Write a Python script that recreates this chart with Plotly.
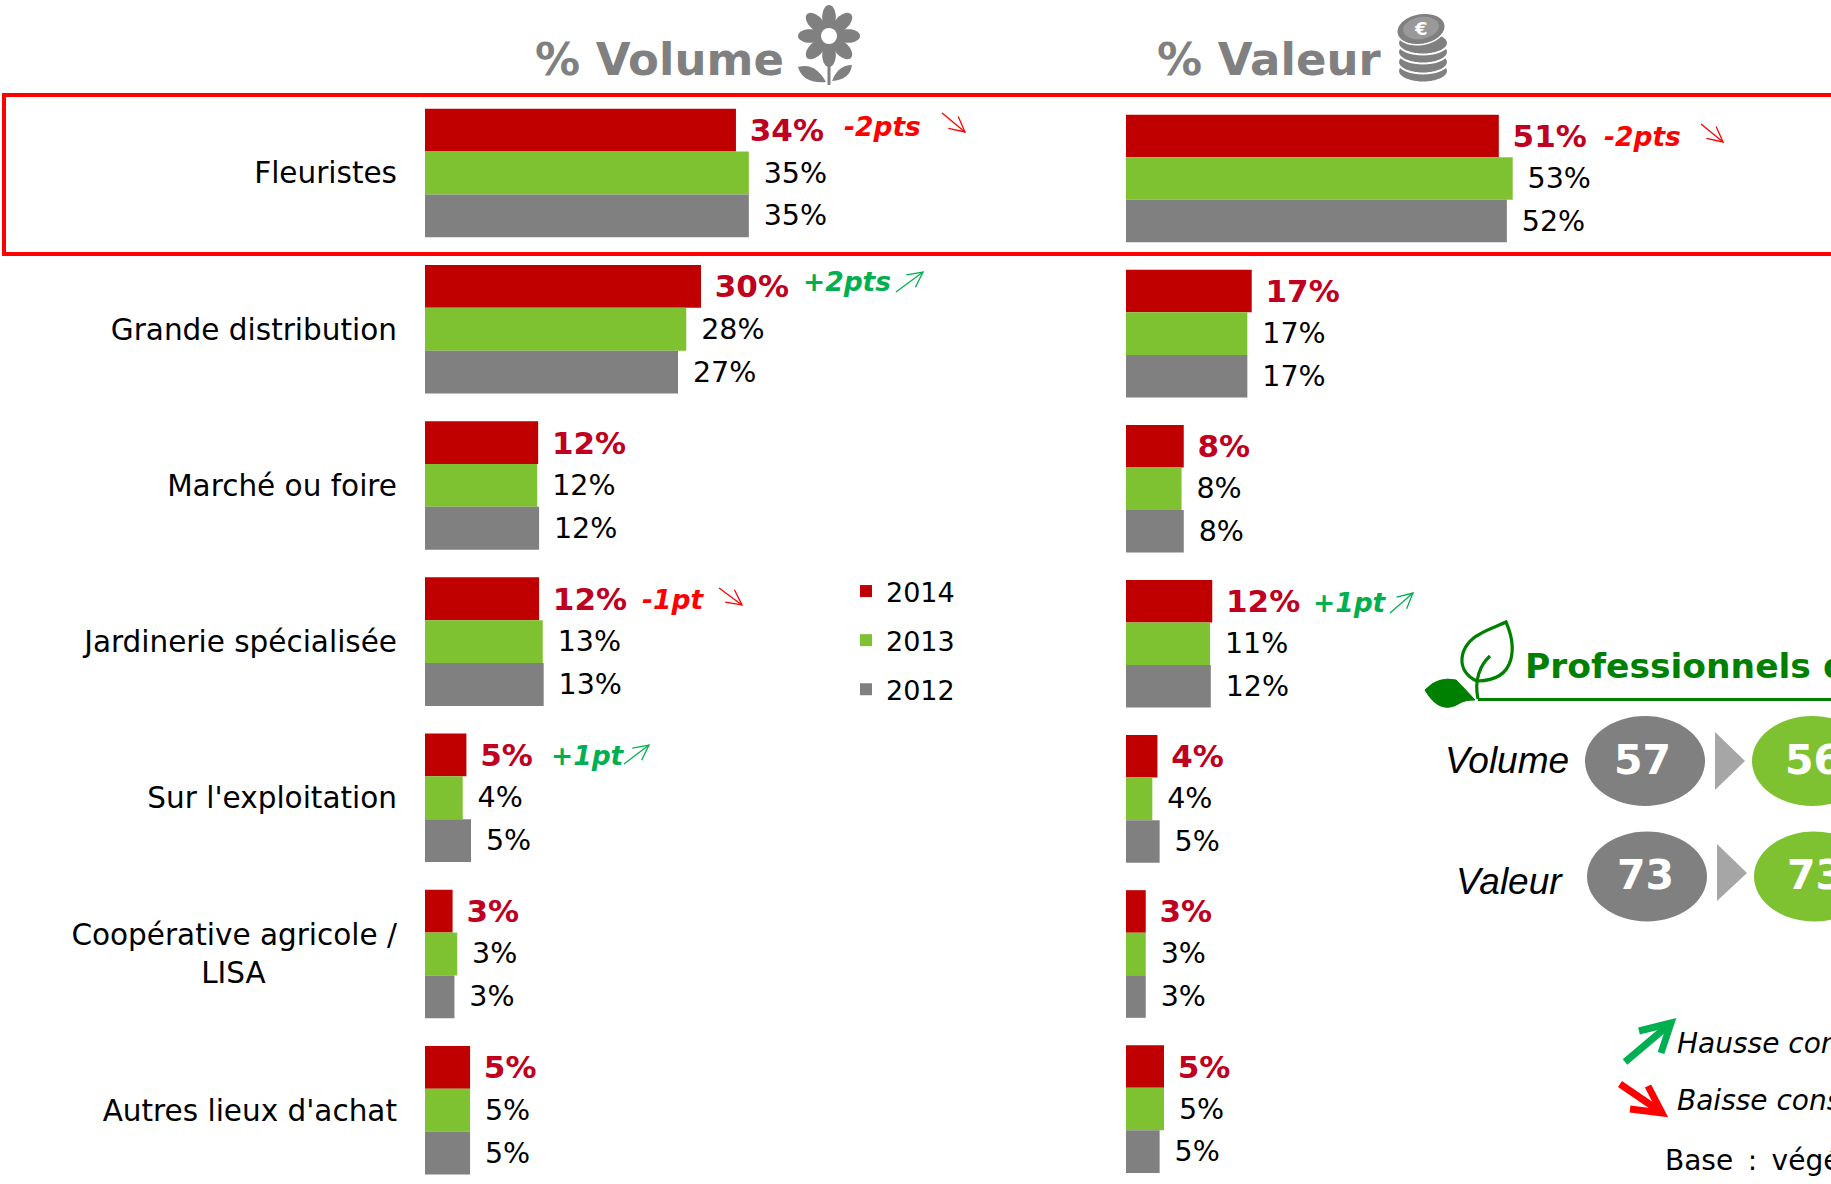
import math
import plotly.graph_objects as go

W, H = 1831, 1184

categories = ["Fleuristes", "Grande distribution", "Marché ou foire", "Jardinerie spécialisée",
              "Sur l'exploitation", "Coopérative agricole /", "Autres lieux d'achat"]
tick_labels = ["Fleuristes", "Grande distribution", "Marché ou foire", "Jardinerie spécialisée",
               "Sur l'exploitation", "Coopérative agricole /<br>LISA" + "\u00a0" * 14, "Autres lieux d'achat"]
years = ["2014", "2013", "2012"]
colors = {"2014": "#C00000", "2013": "#7FC231", "2012": "#808080"}

vol_2014 = [33.8, 30.0, 12.3, 12.4, 4.5, 3.0, 4.9]
vol_2013 = [35.2, 28.4, 12.2, 12.8, 4.1, 3.5, 4.9]
vol_2012 = [35.2, 27.5, 12.4, 12.9, 5.0, 3.2, 4.9]
vol_lab_2014 = ["34%", "30%", "12%", "12%", "5%", "3%", "5%"]
vol_lab_2013 = ["35%", "28%", "12%", "13%", "4%", "3%", "5%"]
vol_lab_2012 = ["35%", "27%", "12%", "13%", "5%", "3%", "5%"]

val_2014 = [51.0, 17.2, 7.9, 11.8, 4.3, 2.7, 5.2]
val_2013 = [52.9, 16.6, 7.6, 11.5, 3.6, 2.7, 5.2]
val_2012 = [52.1, 16.6, 7.9, 11.6, 4.6, 2.7, 4.6]
val_lab_2014 = ["51%", "17%", "8%", "12%", "4%", "3%", "5%"]
val_lab_2013 = ["53%", "17%", "8%", "11%", "4%", "3%", "5%"]
val_lab_2012 = ["52%", "17%", "8%", "12%", "5%", "3%", "5%"]

kpi_volume = [57, 56]
kpi_valeur = [73, 73]

FONT = "DejaVu Sans"
RED = "#FF0000"
GRN = "#00B050"
DKG = "#008000"
GREY = "#808080"


def fx(x):
    return x / W


def fy(y):
    return 1 - y / H


fig = go.Figure()
vol_series = [vol_2014, vol_2013, vol_2012]
vol_labels = [vol_lab_2014, vol_lab_2013, vol_lab_2012]
val_series = [val_2014, val_2013, val_2012]
val_labels = [val_lab_2014, val_lab_2013, val_lab_2012]

for k, yr in enumerate(years):
    nb = "\u00a0" if k == 0 else "\u00a0\u200a"
    tf = dict(family=FONT, size=31 if k == 0 else 28.5, color="#C00020" if k == 0 else "#000000",
              weight="bold" if k == 0 else "normal")
    fig.add_trace(go.Bar(
        name=yr, legendgroup=yr, orientation="h", x=vol_series[k], y=categories,
        marker=dict(color=colors[yr], line_width=0),
        text=[nb + t for t in vol_labels[k]], textposition="outside", textfont=tf,
        cliponaxis=False, constraintext="none", xaxis="x", yaxis="y", hoverinfo="skip"))
    fig.add_trace(go.Bar(
        name=yr, legendgroup=yr, showlegend=False, orientation="h", x=val_series[k], y=categories,
        marker=dict(color=colors[yr], line_width=0),
        text=[nb + t for t in val_labels[k]], textposition="outside", textfont=tf,
        cliponaxis=False, constraintext="none", xaxis="x2", yaxis="y2", hoverinfo="skip"))

shapes = []
annots = []


def line(pts, color, width):
    d = "M" + " L".join(f"{fx(x):.5f},{fy(y):.5f}" for x, y in pts)
    shapes.append(dict(type="path", path=d, xref="paper", yref="paper",
                       line=dict(color=color, width=width), layer="above"))


def poly(pts, color, lc=None, lw=0):
    d = "M" + " L".join(f"{fx(x):.5f},{fy(y):.5f}" for x, y in pts) + " Z"
    shapes.append(dict(type="path", path=d, xref="paper", yref="paper", fillcolor=color,
                       line=dict(color=lc or color, width=lw), layer="above"))


def ellipse(cx, cy, rx, ry, rot=0, n=36):
    r = math.radians(rot)
    out = []
    for i in range(n):
        t = 2 * math.pi * i / n
        a, b = rx * math.cos(t), ry * math.sin(t)
        out.append((cx + a * math.cos(r) - b * math.sin(r), cy + a * math.sin(r) + b * math.cos(r)))
    return out


def oval(cx, cy, rx, ry, color):
    shapes.append(dict(type="circle", xref="paper", yref="paper",
                       x0=fx(cx - rx), x1=fx(cx + rx), y0=fy(cy + ry), y1=fy(cy - ry),
                       fillcolor=color, line_width=0, layer="above"))


def text(s, x, y, size, color="#000000", family=FONT, xanchor="left"):
    annots.append(dict(text=s, x=fx(x), y=fy(y), xref="paper", yref="paper", xanchor=xanchor, yanchor="middle",
                       showarrow=False, align="left", borderpad=0, font=dict(family=family, size=size, color=color)))


def arrow(x0, y0, x1, y1, color, width=1.3, head=17, spread=27):
    ang = math.atan2(y1 - y0, x1 - x0)
    pts = []
    for s in (spread, -spread):
        a = ang + math.pi + math.radians(s)
        pts.append((x1 + head * math.cos(a), y1 + head * math.sin(a)))
    line([(x0, y0), (x1, y1)], color, width)
    line([pts[0], (x1, y1), pts[1]], color, width)


# red highlight frame
shapes.append(dict(type="rect", xref="paper", yref="paper", x0=fx(4), x1=fx(W + 20), y0=fy(254), y1=fy(95),
                   line=dict(color=RED, width=4), layer="above"))

# headers
text("<b>% Volume</b>", 534, 60, 45, GREY)
text("<b>% Valeur</b>", 1156, 60, 45, GREY)

# flower icon
for i in range(8):
    a = math.radians(45 * i - 90)
    poly(ellipse(829 + 19 * math.cos(a), 36 + 19 * math.sin(a), 12, 6.8, 45 * i - 90), GREY)
oval(829, 36, 12, 12, GREY)
oval(829, 36, 8, 8, "#FFFFFF")
line([(829, 55), (829, 85)], GREY, 3)
shapes.append(dict(type="path", xref="paper", yref="paper", fillcolor=GREY, line=dict(color=GREY, width=0), layer="above",
                   path=f"M{fx(798):.5f},{fy(67):.5f} Q{fx(815):.5f},{fy(62):.5f} {fx(826):.5f},{fy(82):.5f} Q{fx(803):.5f},{fy(84):.5f} {fx(798):.5f},{fy(67):.5f} Z"))
shapes.append(dict(type="path", xref="paper", yref="paper", fillcolor=GREY, line=dict(color=GREY, width=0), layer="above",
                   path=f"M{fx(852):.5f},{fy(65):.5f} Q{fx(838):.5f},{fy(65):.5f} {fx(832):.5f},{fy(81):.5f} Q{fx(850):.5f},{fy(80):.5f} {fx(852):.5f},{fy(65):.5f} Z"))

# coins icon
for cy in (71, 62, 52, 43):
    poly(ellipse(1423, cy, 25, 11.5), GREY, "#FFFFFF", 2)
poly(ellipse(1421, 29, 24.5, 15.5, -10), GREY, "#FFFFFF", 1.5)
poly(ellipse(1421, 28, 18, 11, -10), "#999999")
text("<b>€</b>", 1421, 28, 18, "#FFFFFF", xanchor="center")

# delta annotations
deltas = [("-2pts", 843, 127, RED, (942, 113, 965, 132)),
          ("+2pts", 802, 281, GRN, (896, 292, 923, 272)),
          ("-1pt", 641, 599, RED, (719, 588, 742, 605)),
          ("+1pt", 550, 755, GRN, (624, 764, 649, 745)),
          ("-2pts", 1603, 137, RED, (1701, 124, 1723, 142)),
          ("+1pt", 1312, 602, GRN, (1390, 613, 1413, 593))]
for s, x, y, c, a in deltas:
    text(f"<b><i>{s}</i></b>", x, y, 26.5, c)
    arrow(*a, c)

# professionals block
text("<b>Professionnels d</b>", 1524, 666, 34.5, DKG)
line([(1478, 699.5), (W + 5, 699.5)], DKG, 3.2)
shapes.append(dict(type="path", xref="paper", yref="paper", line=dict(color=DKG, width=3.2), layer="above",
                   path=f"M{fx(1477):.5f},{fy(681):.5f} C{fx(1455):.5f},{fy(672):.5f} {fx(1458):.5f},{fy(645):.5f} {fx(1480):.5f},{fy(634):.5f} "
                        f"C{fx(1488):.5f},{fy(629):.5f} {fx(1498):.5f},{fy(626):.5f} {fx(1506):.5f},{fy(622):.5f} "
                        f"C{fx(1516):.5f},{fy(645):.5f} {fx(1518):.5f},{fy(680):.5f} {fx(1478):.5f},{fy(681):.5f}"))
shapes.append(dict(type="path", xref="paper", yref="paper", line=dict(color=DKG, width=3.2), layer="above",
                   path=f"M{fx(1478):.5f},{fy(699):.5f} C{fx(1474):.5f},{fy(680):.5f} {fx(1480):.5f},{fy(665):.5f} {fx(1490):.5f},{fy(656):.5f}"))
shapes.append(dict(type="path", xref="paper", yref="paper", fillcolor=DKG, line=dict(color=DKG, width=1), layer="above",
                   path=f"M{fx(1425):.5f},{fy(690):.5f} Q{fx(1438):.5f},{fy(676):.5f} {fx(1456):.5f},{fy(680):.5f} Q{fx(1464):.5f},{fy(688):.5f} {fx(1475):.5f},{fy(700):.5f} "
                        f"Q{fx(1465):.5f},{fy(700):.5f} {fx(1460):.5f},{fy(703):.5f} Q{fx(1440):.5f},{fy(716):.5f} {fx(1425):.5f},{fy(690):.5f} Z"))

text("<i>Volume</i>", 1444, 760, 37, family="Liberation Sans")
text("<i>Valeur</i>", 1455, 881, 37, family="Liberation Sans")

oval(1645, 761, 60, 45, GREY)
poly([(1715, 732), (1745, 761), (1715, 790)], "#A6A6A6")
oval(1812, 761, 60, 45, "#7FC231")
text(f"<b>{kpi_volume[0]}</b>", 1642, 760, 41, "#FFFFFF", xanchor="center")
text(f"<b>{kpi_volume[1]}</b>", 1813, 760, 41, "#FFFFFF", xanchor="center")

oval(1647, 876.5, 60, 45, GREY)
poly([(1717, 844), (1747, 873), (1717, 901)], "#A6A6A6")
oval(1814, 876.5, 60, 45, "#7FC231")
text(f"<b>{kpi_valeur[0]}</b>", 1645, 875, 41, "#FFFFFF", xanchor="center")
text(f"<b>{kpi_valeur[1]}</b>", 1815, 875, 41, "#FFFFFF", xanchor="center")

# key arrows
line([(1625, 1062), (1670, 1024)], GRN, 7)
line([(1639, 1031), (1671, 1023), (1661, 1053)], GRN, 7)
line([(1620, 1084), (1661, 1112)], RED, 7)
line([(1648, 1086), (1662, 1113), (1630, 1109)], RED, 7)

text("<i>Hausse cons</i>", 1676, 1043, 28)
text("<i>Baisse cons</i>", 1676, 1100, 28)
text("Base\u00a0\u2009:\u00a0\u2009végé", 1664, 1160, 28)

fig.update_layout(
    width=W, height=H, autosize=False,
    margin=dict(l=0, r=0, t=0, b=0),
    paper_bgcolor="#FFFFFF", plot_bgcolor="#FFFFFF",
    barmode="group", bargap=0.177, bargroupgap=0,
    font=dict(family=FONT, color="#000000"),
    showlegend=True,
    legend=dict(x=fx(846), y=fy(567), xanchor="left", yanchor="top", tracegroupgap=11,
                font=dict(family=FONT, size=27, color="#000000"), bgcolor="rgba(0,0,0,0)",
                traceorder="grouped"),
    xaxis=dict(domain=[fx(425), fx(425 + 9.2 * 50)], range=[0, 50], visible=False),
    xaxis2=dict(domain=[fx(1126), fx(1126 + 7.31 * 70)], range=[0, 70], visible=False),
    yaxis=dict(domain=[0, 1], anchor="x", type="category", categoryorder="array", categoryarray=categories,
               range=[6.4725, -1.1076], tickmode="array", tickvals=categories, ticktext=tick_labels,
               showgrid=False, zeroline=False, showline=False, ticks="",
               ticklabelstandoff=27, tickfont=dict(family=FONT, size=29.5, color="#000000")),
    yaxis2=dict(domain=[0, 1], anchor="x2", type="category", categoryorder="array", categoryarray=categories,
                range=[6.483, -1.151], showticklabels=False,
                showgrid=False, zeroline=False, showline=False, ticks=""),
    shapes=shapes, annotations=annots,
)

fig.write_html("out.html", config={"displayModeBar": False},
               post_script="document.body.style.margin='0';document.body.style.overflow='hidden';")
